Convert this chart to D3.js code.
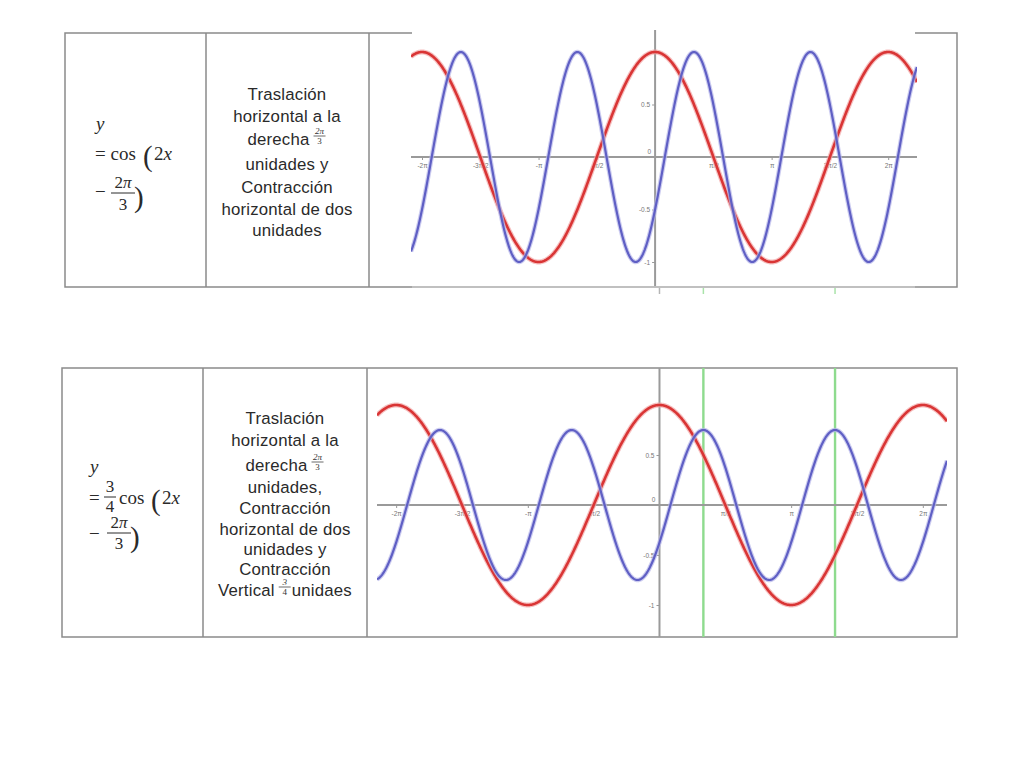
<!DOCTYPE html>
<html>
<head>
<meta charset="utf-8">
<script src="https://cdn.jsdelivr.net/npm/d3@7"></script>
<style>
  html, body { margin: 0; padding: 0; background: #fff; }
  svg { display: block; }
  .desc { font-family: "Liberation Sans", Arial, sans-serif; font-size: 16.8px; fill: #2a2a2a; letter-spacing: 0.2px; }
  .math { font-family: "Liberation Serif", "Times New Roman", serif; fill: #2a2a2a; }
  .tick text { font-family: "Liberation Sans", Arial, sans-serif; font-size: 6.5px; fill: #777; }
</style>
</head>
<body>
<svg id="chart" width="1024" height="768"></svg>
<script>
// ---------------- data ----------------
const PI = Math.PI;
// x tick positions (multiples of pi/2) and their labels
const xTickValues = [-2 * PI, -3 * PI / 2, -PI, -PI / 2, PI / 2, PI, 3 * PI / 2, 2 * PI];
const xTickLabels = ["-2π", "-3π/2", "-π", "-π/2", "π/2", "π", "3π/2", "2π"];
const yTickValues = [0.5, -0.5, -1];
const yTickLabels = ["0.5", "-0.5", "-1"];
// series definitions: y = A·cos(k·x − φ)
const seriesNames = ["base", "transformed"];
const seriesColors = ["#d93535", "#5f5fc4"];
const amplitudesRow1 = [1, 1];
const amplitudesRow2 = [1, 0.75];
const frequencies = [1, 2];
const phases = [0, 2 * PI / 3];
// green reference lines (peaks of the transformed curve)
const greenLinesX = [PI / 3, 4 * PI / 3];
// table texts
const descRow1 = ["Traslación", "horizontal a la", "derecha|2π|3", "unidades y", "Contracción", "horizontal de dos", "unidades"];
const descRow2 = ["Traslación", "horizontal a la", "derecha|2π|3", "unidades,", "Contracción", "horizontal de dos", "unidades y", "Contracción", "Vertical|3|4|unidaes"];

// ---------------- drawing ----------------
const svg = d3.select("#chart");
svg.append("rect").attr("width", 1024).attr("height", 768).attr("fill", "#fff");

const borderColor = "#8a8a8a";

function tableFrame(x0, x1, x2, x3, y0, y1) {
  const g = svg.append("g").attr("stroke", borderColor).attr("stroke-width", 1.5).attr("fill", "none");
  g.append("rect").attr("x", x0).attr("y", y0).attr("width", x3 - x0).attr("height", y1 - y0);
  g.append("line").attr("x1", x1).attr("x2", x1).attr("y1", y0).attr("y2", y1);
  g.append("line").attr("x1", x2).attr("x2", x2).attr("y1", y0).attr("y2", y1);
}

function drawDesc(lines, cx, baselines) {
  const g = svg.append("g");
  lines.forEach((ln, i) => {
    const parts = ln.split("|");
    const y = baselines[i];
    if (parts.length === 1) {
      g.append("text").attr("class", "desc").attr("x", cx).attr("y", y).attr("text-anchor", "middle").text(ln);
    } else {
      const lg = g.append("g");
      const t1 = lg.append("text").attr("class", "desc").attr("x", 0).attr("y", y).text(parts[0]);
      let w = t1.node().getComputedTextLength() + 4;
      const fx = w + 6;
      lg.append("text").attr("class", "math").attr("x", fx).attr("y", y - 11).attr("text-anchor", "middle")
        .style("font-size", "9px").style("font-style", "italic").style("fill", "#333").text(parts[1]);
      lg.append("line").attr("x1", fx - 6).attr("x2", fx + 6).attr("y1", y - 9).attr("y2", y - 9)
        .attr("stroke", "#444").attr("stroke-width", 0.8);
      lg.append("text").attr("class", "math").attr("x", fx).attr("y", y - 1).attr("text-anchor", "middle")
        .style("font-size", "9px").style("fill", "#333").text(parts[2]);
      w = fx + 7;
      if (parts[3]) {
        const t3 = lg.append("text").attr("class", "desc").attr("x", w).attr("y", y).text(parts[3]);
        w += t3.node().getComputedTextLength();
      }
      lg.attr("transform", `translate(${cx - w / 2},0)`);
    }
  });
}

function fraction(g, cx, num, den, yNum, yLine, yDen, half, size) {
  g.append("text").attr("class", "math").attr("x", cx).attr("y", yNum).attr("text-anchor", "middle")
    .style("font-size", size + "px").html(num);
  g.append("line").attr("x1", cx - half).attr("x2", cx + half).attr("y1", yLine).attr("y2", yLine)
    .attr("stroke", "#2a2a2a").attr("stroke-width", 1);
  g.append("text").attr("class", "math").attr("x", cx).attr("y", yDen).attr("text-anchor", "middle")
    .style("font-size", size + "px").text(den);
}

function plot(cfg) {
  const x = d3.scaleLinear().domain(cfg.xDomain).range([cfg.left, cfg.right]);
  const y = d3.scaleLinear().domain([-1, 1]).range([cfg.yMinPx, cfg.yMaxPx]);
  const g = svg.append("g");
  if (cfg.cover) {
    g.append("rect").attr("x", cfg.cover[0]).attr("y", cfg.cover[1]).attr("width", cfg.cover[2]).attr("height", cfg.cover[3]).attr("fill", "#fff");
  }
  const clipId = "clip" + cfg.id;
  svg.append("clipPath").attr("id", clipId).append("rect")
    .attr("x", cfg.left).attr("y", cfg.clipTop).attr("width", cfg.right - cfg.left).attr("height", cfg.clipBottom - cfg.clipTop);

  if (cfg.green) {
    g.selectAll("line.green").data(greenLinesX).join("line").attr("class", "green")
      .attr("x1", d => x(d)).attr("x2", d => x(d)).attr("y1", cfg.axisTop).attr("y2", cfg.axisBottom)
      .attr("stroke", "#8edb8e").attr("stroke-width", 2.4);
  }
  g.append("line").attr("x1", cfg.left).attr("x2", cfg.right).attr("y1", y(0)).attr("y2", y(0))
    .attr("stroke", "#9a9a9a").attr("stroke-width", 2);
  g.append("line").attr("x1", x(0)).attr("x2", x(0)).attr("y1", cfg.axisTop).attr("y2", cfg.axisBottom)
    .attr("stroke", "#9a9a9a").attr("stroke-width", 2);

  const xAxis = d3.axisBottom(x).tickValues(xTickValues).tickFormat((d, i) => xTickLabels[i]).tickSize(3).tickPadding(3);
  const gx = g.append("g").attr("transform", `translate(0,${y(0)})`).call(xAxis);
  gx.select(".domain").remove();
  gx.selectAll(".tick line").attr("stroke", "#999");
  const yAxis = d3.axisLeft(y).tickValues(yTickValues).tickFormat((d, i) => yTickLabels[i]).tickSize(3).tickPadding(2);
  const gy = g.append("g").attr("transform", `translate(${x(0)},0)`).call(yAxis);
  gy.select(".domain").remove();
  gy.selectAll(".tick line").attr("stroke", "#999");
  g.append("text").attr("x", x(0) - 4).attr("y", y(0) - 3).attr("text-anchor", "end")
    .style("font-family", "Liberation Sans, Arial, sans-serif").style("font-size", "6.5px").style("fill", "#777").text("0");

  const xs = d3.range(cfg.xDomain[0], cfg.xDomain[1] + 0.01, 0.02);
  const line = d3.line().x(d => x(d[0])).y(d => y(d[1]));
  const cg = g.append("g").attr("clip-path", `url(#${clipId})`).attr("fill", "none");
  [0, 1].forEach(s => {
    const pts = xs.map(v => [v, cfg.amps[s] * Math.cos(frequencies[s] * v - phases[s])]);
    const glow = s === 0 ? "#f2a6a6" : "#b7b7ea";
    cg.append("path").datum(pts).attr("d", line).attr("stroke", glow).attr("stroke-width", s === 0 ? 5 : 4.5).attr("stroke-opacity", 0.7);
    cg.append("path").datum(pts).attr("d", line).attr("stroke", seriesColors[s]).attr("stroke-width", s === 0 ? 2.6 : 2.2)
      .attr("stroke-linejoin", "round");
  });
  return { x, y };
}

// ---------- Row 1 ----------
tableFrame(65, 206, 369, 957, 33, 287);
const p1 = plot({
  id: 1, xDomain: [-6.58, 7.06], left: 411, right: 917,
  yMinPx: 262, yMaxPx: 52, clipTop: 34, clipBottom: 286,
  axisTop: 30, axisBottom: 287, green: false,
  cover: [412, 27, 503, 259], amps: amplitudesRow1
});
svg.append("line").attr("x1", 412).attr("x2", 915).attr("y1", 287).attr("y2", 287).attr("stroke", "#c8c8c8").attr("stroke-width", 1.5);

// ---------- Row 2 ----------
tableFrame(62, 203, 367, 957, 368, 637);
const p2 = plot({
  id: 2, xDomain: [-6.74, 6.86], left: 377, right: 947,
  yMinPx: 605, yMaxPx: 405, clipTop: 369, clipBottom: 636,
  axisTop: 368, axisBottom: 637, green: true, amps: amplitudesRow2
});

// stubs below row 1
const stub = svg.append("g");
stub.append("line").attr("x1", p2.x(0)).attr("x2", p2.x(0)).attr("y1", 288).attr("y2", 294).attr("stroke", "#b5b5b5").attr("stroke-width", 1.5);
stub.selectAll("line.gs").data(greenLinesX).join("line").attr("class", "gs")
  .attr("x1", d => p2.x(d)).attr("x2", d => p2.x(d)).attr("y1", 288).attr("y2", 294).attr("stroke", "#a9e3a9").attr("stroke-width", 1.5);

// ---------- Column 1 formulas ----------
const m1 = svg.append("g");
m1.append("text").attr("class", "math").attr("x", 96).attr("y", 130).style("font-size", "19px").style("font-style", "italic").text("y");
m1.append("text").attr("class", "math").attr("x", 95).attr("y", 160).style("font-size", "19px").text("= cos");
m1.append("text").attr("class", "math").attr("x", 143).attr("y", 166).style("font-size", "29px").text("(");
m1.append("text").attr("class", "math").attr("x", 154).attr("y", 160).style("font-size", "19px").html('2<tspan font-style="italic">x</tspan>');
m1.append("text").attr("class", "math").attr("x", 95).attr("y", 198).style("font-size", "19px").text("−");
fraction(m1, 123, '2<tspan font-style="italic">π</tspan>', "3", 188, 193, 210, 12, 17);
m1.append("text").attr("class", "math").attr("x", 134).attr("y", 207).style("font-size", "29px").text(")");

const m2 = svg.append("g");
m2.append("text").attr("class", "math").attr("x", 90).attr("y", 473).style("font-size", "19px").style("font-style", "italic").text("y");
m2.append("text").attr("class", "math").attr("x", 89).attr("y", 504).style("font-size", "19px").text("=");
fraction(m2, 110, "3", "4", 492, 497, 512, 6, 17);
m2.append("text").attr("class", "math").attr("x", 119).attr("y", 504).style("font-size", "19px").text("cos");
m2.append("text").attr("class", "math").attr("x", 151).attr("y", 510).style("font-size", "29px").text("(");
m2.append("text").attr("class", "math").attr("x", 162).attr("y", 504).style("font-size", "19px").html('2<tspan font-style="italic">x</tspan>');
m2.append("text").attr("class", "math").attr("x", 89).attr("y", 540).style("font-size", "19px").text("−");
fraction(m2, 119, '2<tspan font-style="italic">π</tspan>', "3", 528, 533, 549, 12, 17);
m2.append("text").attr("class", "math").attr("x", 130).attr("y", 547).style("font-size", "29px").text(")");

// ---------- Column 2 descriptions ----------
drawDesc(descRow1, 287, [100, 122, 145, 170, 193, 215, 236]);
drawDesc(descRow2, 285, [424, 446, 471, 493, 514, 535, 555, 575, 596]);
</script>
</body>
</html>
